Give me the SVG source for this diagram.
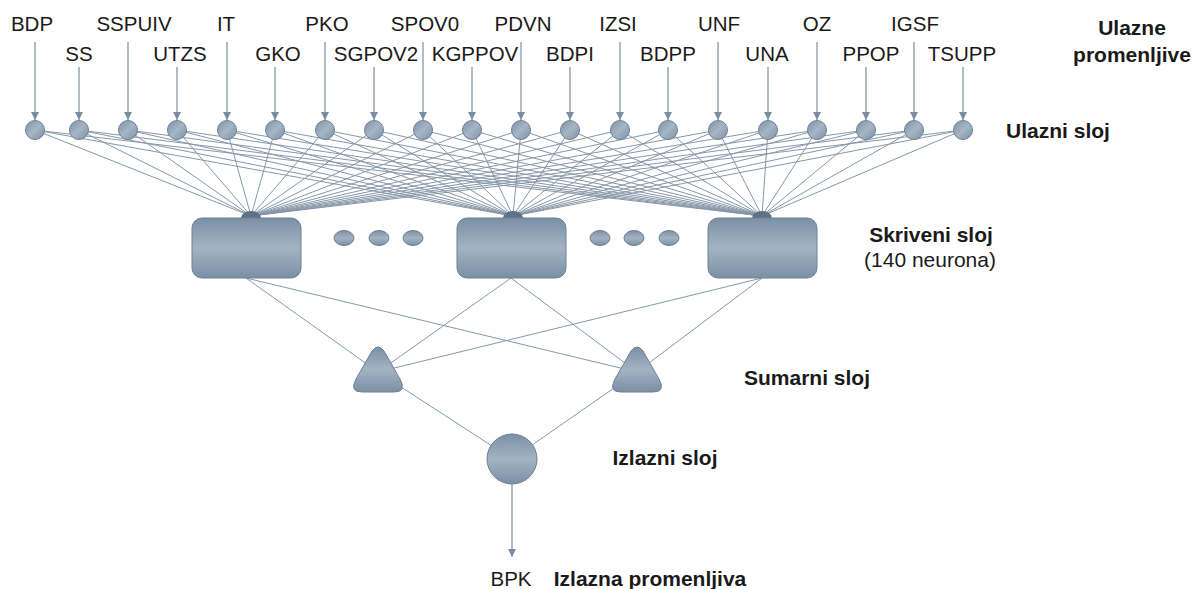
<svg xmlns="http://www.w3.org/2000/svg" width="1193" height="589" viewBox="0 0 1193 589">
<defs>
<linearGradient id="gc" x1="0" y1="0" x2="1" y2="1"><stop offset="0" stop-color="#7c91a6"/><stop offset="0.5" stop-color="#a6b5c4"/><stop offset="1" stop-color="#7c91a6"/></linearGradient>
<linearGradient id="gv" x1="0" y1="0" x2="0" y2="1"><stop offset="0" stop-color="#7b90a5"/><stop offset="0.5" stop-color="#a3b3c2"/><stop offset="1" stop-color="#7b90a5"/></linearGradient>
<marker id="ah" markerWidth="9" markerHeight="9" refX="8" refY="4" orient="auto" markerUnits="userSpaceOnUse"><path d="M0,0 L8,4 L0,8 Z" fill="#7a8da0"/></marker>
<style>
.lbl{font-family:"Liberation Sans",Arial,sans-serif;font-size:20.5px;fill:#1a1a1a;text-anchor:middle}
.b{font-family:"Liberation Sans",Arial,sans-serif;font-size:21px;font-weight:bold;fill:#1a1a1a;text-anchor:middle}
.r{font-family:"Liberation Sans",Arial,sans-serif;font-size:21px;fill:#1a1a1a;text-anchor:middle}
.arr line,line.arr{stroke:#7a8da0;stroke-width:1.2;marker-end:url(#ah)}
.ln{stroke:#8797a8;stroke-width:1;fill:none}
.nd{fill:url(#gc);stroke:#6d8196;stroke-width:1}
.nv{fill:url(#gv);stroke:#6d8196;stroke-width:1}
.cap{fill:#5e7287}
</style>
</defs>
<rect width="1193" height="589" fill="#ffffff"/>

<g id="connectors">
<path class="ln" d="M35,130L251,216M79,130L251,216M128,130L251,216M177,130L251,216M227,130L251,216M275,130L251,216M325,130L251,216M374,130L251,216M423,130L251,216M472,130L251,216M521,130L251,216M570,130L251,216M620,130L251,216M668,130L251,216M718,130L251,216M768,130L251,216M817,130L251,216M866,130L251,216M914,130L251,216M963,130L251,216"/>
<path class="ln" d="M35,130L513,216M79,130L513,216M128,130L513,216M177,130L513,216M227,130L513,216M275,130L513,216M325,130L513,216M374,130L513,216M423,130L513,216M472,130L513,216M521,130L513,216M570,130L513,216M620,130L513,216M668,130L513,216M718,130L513,216M768,130L513,216M817,130L513,216M866,130L513,216M914,130L513,216M963,130L513,216"/>
<path class="ln" d="M35,130L762,216M79,130L762,216M128,130L762,216M177,130L762,216M227,130L762,216M275,130L762,216M325,130L762,216M374,130L762,216M423,130L762,216M472,130L762,216M521,130L762,216M570,130L762,216M620,130L762,216M668,130L762,216M718,130L762,216M768,130L762,216M817,130L762,216M866,130L762,216M914,130L762,216M963,130L762,216"/>
<path class="ln" d="M246,278L378,372M246,278L637,372M511,278L378,372M511,278L637,372M762,278L378,372M762,278L637,372"/>
<path class="ln" d="M378,372L512,459M637,372L512,459"/>
<g class="arr">
<line x1="35" y1="42" x2="35" y2="120"/><line x1="128" y1="42" x2="128" y2="120"/><line x1="227" y1="42" x2="227" y2="120"/><line x1="325" y1="42" x2="325" y2="120"/><line x1="423" y1="42" x2="423" y2="120"/><line x1="521" y1="42" x2="521" y2="120"/><line x1="620" y1="42" x2="620" y2="120"/><line x1="718" y1="42" x2="718" y2="120"/><line x1="817" y1="42" x2="817" y2="120"/><line x1="914" y1="42" x2="914" y2="120"/>
<line x1="79" y1="67" x2="79" y2="120"/><line x1="177" y1="67" x2="177" y2="120"/><line x1="275" y1="67" x2="275" y2="120"/><line x1="374" y1="67" x2="374" y2="120"/><line x1="472" y1="67" x2="472" y2="120"/><line x1="570" y1="67" x2="570" y2="120"/><line x1="668" y1="67" x2="668" y2="120"/><line x1="768" y1="67" x2="768" y2="120"/><line x1="866" y1="67" x2="866" y2="120"/><line x1="963" y1="67" x2="963" y2="120"/>
<line x1="512" y1="484" x2="512" y2="557"/>
</g>
</g>

<g id="input-nodes">
<circle class="nd" cx="35" cy="130" r="9.5"/><circle class="nd" cx="79" cy="130" r="9.5"/><circle class="nd" cx="128" cy="130" r="9.5"/><circle class="nd" cx="177" cy="130" r="9.5"/><circle class="nd" cx="227" cy="130" r="9.5"/><circle class="nd" cx="275" cy="130" r="9.5"/><circle class="nd" cx="325" cy="130" r="9.5"/><circle class="nd" cx="374" cy="130" r="9.5"/><circle class="nd" cx="423" cy="130" r="9.5"/><circle class="nd" cx="472" cy="130" r="9.5"/><circle class="nd" cx="521" cy="130" r="9.5"/><circle class="nd" cx="570" cy="130" r="9.5"/><circle class="nd" cx="620" cy="130" r="9.5"/><circle class="nd" cx="668" cy="130" r="9.5"/><circle class="nd" cx="718" cy="130" r="9.5"/><circle class="nd" cx="768" cy="130" r="9.5"/><circle class="nd" cx="817" cy="130" r="9.5"/><circle class="nd" cx="866" cy="130" r="9.5"/><circle class="nd" cx="914" cy="130" r="9.5"/><circle class="nd" cx="963" cy="130" r="9.5"/>
</g>

<g id="input-labels">
<text class="lbl" x="32" y="31">BDP</text>
<text class="lbl" x="134" y="31">SSPUIV</text>
<text class="lbl" x="226" y="31">IT</text>
<text class="lbl" x="327" y="31">PKO</text>
<text class="lbl" x="425" y="31">SPOV0</text>
<text class="lbl" x="523" y="31">PDVN</text>
<text class="lbl" x="618" y="31">IZSI</text>
<text class="lbl" x="719" y="31">UNF</text>
<text class="lbl" x="817" y="31">OZ</text>
<text class="lbl" x="915" y="31">IGSF</text>
<text class="lbl" x="79" y="61">SS</text>
<text class="lbl" x="180" y="61">UTZS</text>
<text class="lbl" x="278" y="61">GKO</text>
<text class="lbl" x="376" y="61">SGPOV2</text>
<text class="lbl" x="475" y="61">KGPPOV</text>
<text class="lbl" x="570" y="61">BDPI</text>
<text class="lbl" x="668" y="61">BDPP</text>
<text class="lbl" x="767" y="61">UNA</text>
<text class="lbl" x="871" y="61">PPOP</text>
<text class="lbl" x="962" y="61">TSUPP</text>
</g>

<g id="hidden-1"><path class="cap" d="M241,218A10,7 0 0 1 261,218Z"/><rect class="nv" x="192" y="218" width="109" height="60" rx="10"/></g>
<g id="hidden-2"><path class="cap" d="M503,218A10,7 0 0 1 523,218Z"/><rect class="nv" x="457" y="218" width="109" height="60" rx="10"/></g>
<g id="hidden-3"><path class="cap" d="M752,218A10,7 0 0 1 772,218Z"/><rect class="nv" x="708" y="218" width="109" height="60" rx="10"/></g>
<g id="hidden-dots">
<ellipse class="nv" cx="344" cy="238" rx="10" ry="7.5"/><ellipse class="nv" cx="379" cy="238" rx="10" ry="7.5"/><ellipse class="nv" cx="413" cy="238" rx="10" ry="7.5"/>
<ellipse class="nv" cx="600" cy="238" rx="10" ry="7.5"/><ellipse class="nv" cx="634" cy="238" rx="10" ry="7.5"/><ellipse class="nv" cx="669" cy="238" rx="10" ry="7.5"/>
</g>

<g id="sum-1"><path class="nv" d="M372,351Q378,343 384,351L400,379Q407,392 394,392L362,392Q349,392 356,379Z"/></g>
<g id="sum-2"><path class="nv" d="M631,351Q637,343 643,351L659,379Q666,392 653,392L621,392Q608,392 615,379Z"/></g>

<g id="output"><circle class="nv" cx="512" cy="459" r="25"/></g>

<g id="layer-labels">
<text class="b" x="1132" y="35">Ulazne</text>
<text class="b" x="1132" y="62">promenljive</text>
<text class="b" x="1058" y="138">Ulazni sloj</text>
<text class="b" x="931" y="242">Skriveni sloj</text>
<text class="r" x="930" y="267">(140 neurona)</text>
<text class="b" x="807" y="385">Sumarni sloj</text>
<text class="b" x="665" y="465">Izlazni sloj</text>
<text class="lbl" x="511" y="586">BPK</text>
<text class="b" x="650" y="586">Izlazna promenljiva</text>
</g>
</svg>
